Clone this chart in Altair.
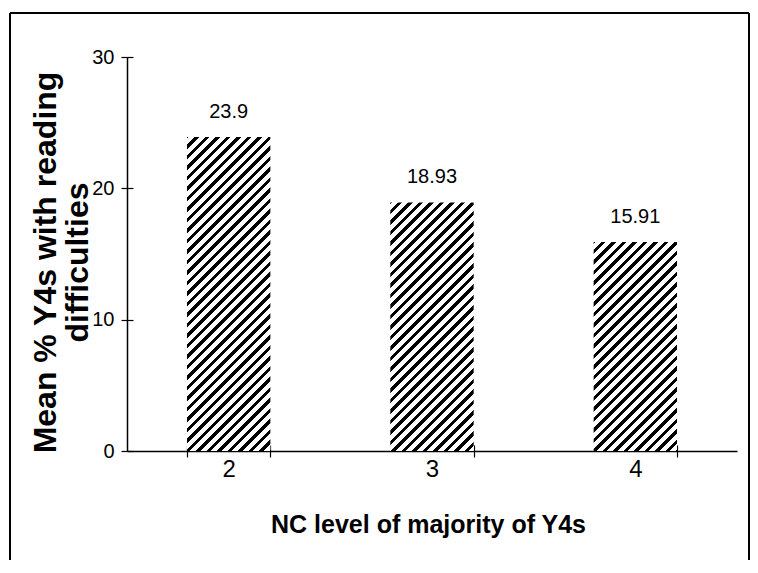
import altair as alt
import pandas as pd

# ---- data ----
levels = ["2", "3", "4"]
means = [23.9, 18.93, 15.91]
value_labels = ["23.9", "18.93", "15.91"]
y_ticks = [0, 10, 20, 30]

x_title = "NC level of majority of Y4s"
y_title = ["Mean % Y4s with reading", "difficulties"]

# ---- layout / style ----
W, H = 610, 394
YMAX = 30
PAD_INNER = 0.59
PAD_L, PAD_T, PAD_R, PAD_B = 119, 49, 13, 109
FONT = "Liberation Sans, Arial, Helvetica, sans-serif"

df = pd.DataFrame({"level": levels, "mean": means, "label": value_labels})


def hatch_fill(value, period=10.5, frac=0.42, phase=3.0):
    """Diagonal '/' hatching built as a hard-stop linear gradient (bbox units)."""
    step = W / len(levels)
    w = step * (1 - PAD_INNER)
    h = value / YMAX * H
    total = w + h
    alpha = total / (w * w + h * h)
    stops = []

    def add(off, col):
        off = max(0.0, min(1.0, off / total))
        stops.append({"offset": off, "color": col})

    pos = -phase
    add(0, "white")
    while pos < total:
        add(pos, "white")
        add(pos, "black")
        add(pos + period * frac, "black")
        add(pos + period * frac, "white")
        pos += period
    add(total, "white")
    out = []
    last = 0.0
    for s in stops:
        o = max(last, s["offset"])
        out.append({"offset": o, "color": s["color"]})
        last = o
    return {
        "gradient": "linear",
        "x1": 0, "y1": 0,
        "x2": alpha * w, "y2": alpha * h,
        "stops": out,
    }


xscale = alt.Scale(domain=levels, paddingInner=PAD_INNER, paddingOuter=PAD_INNER / 2)
yscale = alt.Scale(domain=[0, YMAX], nice=False)

x_main = dict(
    title=x_title, labelAngle=0, tickBand="extent", tickSize=6, tickColor="black",
    domainColor="black", domainWidth=1.5, tickWidth=1.2,
    labelFont=FONT, labelFontSize=24, labelColor="black", labelPadding=0,
    titleFont=FONT, titleFontSize=25, titleFontWeight="bold", titleColor="black",
    titleX=301, titleY=73, titleBaseline="middle", titleAlign="center", grid=False,
    orient="bottom",
)
y_main = dict(
    values=y_ticks, title=y_title, tickSize=6, tickColor="black", tickWidth=1.2,
    domainColor="black", domainWidth=1.5,
    labelFont=FONT, labelFontSize=20, labelColor="black", labelPadding=7,
    titleFont=FONT, titleFontSize=32, titleFontWeight="bold", titleColor="black",
    titleAngle=270, titleX=-82, titleY=205, titleBaseline="middle", titleAlign="center",
    titleLineHeight=32, grid=False, orient="left",
)
x_in = alt.Axis(title=None, labels=False, domain=False, tickBand="extent", tickSize=6,
                tickColor="black", tickWidth=1.2, offset=-6, grid=False, orient="bottom")
y_in = alt.Axis(title=None, labels=False, domain=False, values=y_ticks, tickSize=6,
                tickColor="black", tickWidth=1.2, offset=-6, grid=False, orient="left")

layers = []

# outer frame (left, top, right edges; bottom lies below the page)
one = pd.DataFrame({"f": [0]})
FL, FT, FR, FB = -117, -44, W + PAD_R - 1, H + PAD_B + 5
frame_style = dict(color="black", strokeWidth=2, clip=False)
layers.append(alt.Chart(one).mark_rule(**frame_style).encode(
    x=alt.value(FL), y=alt.value(FT), y2=alt.value(FB)))
layers.append(alt.Chart(one).mark_rule(**frame_style).encode(
    x=alt.value(FL), x2=alt.value(FR), y=alt.value(FT)))
layers.append(alt.Chart(one).mark_rule(**frame_style).encode(
    x=alt.value(FR), y=alt.value(FT), y2=alt.value(FB)))

for i, (lv, val) in enumerate(zip(levels, means)):
    ax_x = alt.Axis(**x_main) if i == 0 else None
    ax_y = alt.Axis(**y_main) if i == 0 else None
    bar = alt.Chart(df).transform_filter(alt.datum.level == lv).mark_bar(
        fill=hatch_fill(val)
    ).encode(
        x=alt.X("level:N", scale=xscale, axis=ax_x, sort=levels),
        y=alt.Y("mean:Q", scale=yscale, axis=ax_y),
    )
    layers.append(bar)

text = alt.Chart(df).mark_text(
    font=FONT, fontSize=20, color="black", dy=-19, baseline="alphabetic"
).encode(
    x=alt.X("level:N", scale=xscale, axis=None, sort=levels),
    y=alt.Y("mean:Q", scale=yscale, axis=None),
    text="label:N",
)
layers.append(text)

ghost = alt.Chart(df).mark_bar(opacity=0).encode(
    x=alt.X("level:N", scale=xscale, axis=x_in, sort=levels),
    y=alt.Y("mean:Q", scale=yscale, axis=y_in),
)
layers.append(ghost)

chart = alt.layer(*layers).resolve_axis(x="independent", y="independent").properties(
    width=W, height=H,
    autosize=alt.AutoSizeParams(type="none"),
    padding={"left": PAD_L, "top": PAD_T, "right": PAD_R, "bottom": PAD_B},
    background="white",
).configure_view(stroke=None)

chart.save("out.html", embed_options={"renderer": "svg", "actions": False})
